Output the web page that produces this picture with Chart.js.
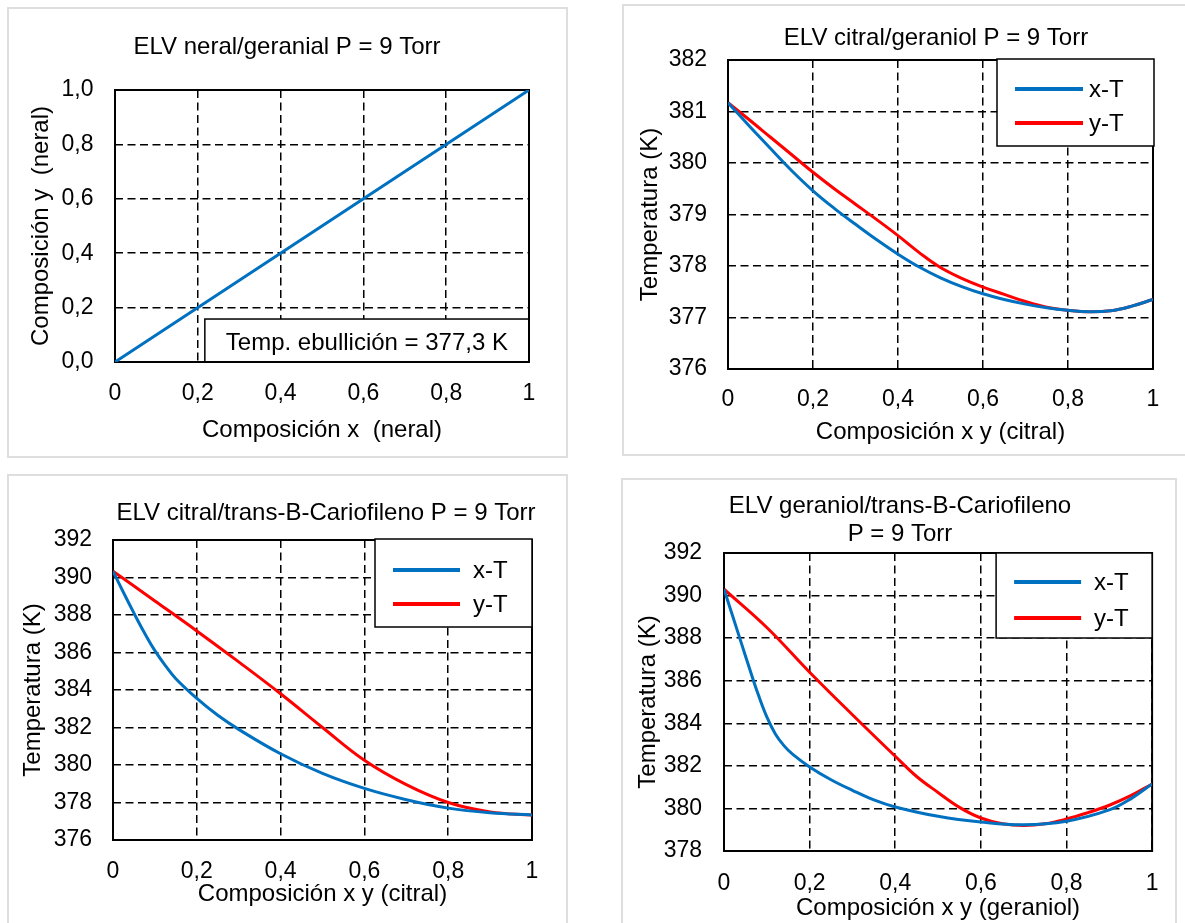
<!DOCTYPE html>
<html><head><meta charset="utf-8">
<script src="https://cdn.jsdelivr.net/npm/chart.js@4.4.1/dist/chart.umd.min.js"></script>
<style>
html,body{margin:0;padding:0;background:#fff;overflow:hidden;width:1185px;height:923px;}
#page{position:relative;width:1185px;height:923px;overflow:hidden;background:#fff;}
.frame{position:absolute;border:2px solid #dedede;box-sizing:border-box;}
canvas{position:absolute;}
</style></head><body><div id="page">
<div class="frame" style="left:7px;top:7px;width:561px;height:451px"></div>
<div class="frame" style="left:622px;top:4px;width:700px;height:452px"></div>
<div class="frame" style="left:7px;top:474px;width:561px;height:500px"></div>
<div class="frame" style="left:621px;top:478px;width:556px;height:500px"></div>
<canvas id="c1" width="558" height="450" style="left:8px;top:8px"></canvas>
<canvas id="c2" width="626" height="450" style="left:623px;top:5px"></canvas>
<canvas id="c3" width="636" height="447" style="left:8px;top:476px"></canvas>
<canvas id="c4" width="554" height="443" style="left:623px;top:480px"></canvas>
</div>
<script>
// ---------- data ----------
const xTickLabels = ['0', '0,2', '0,4', '0,6', '0,8', '1'];

// Panel 1: neral/geranial (y = x)
const p1X = [0, 1];
const p1Y = [0, 1];
const p1YTickLabels = ['0,0', '0,2', '0,4', '0,6', '0,8', '1,0'];
const p1Note = 'Temp. ebullición = 377,3 K';

// Panel 2: citral/geraniol
const p2XBlue = [0, 0.05, 0.1, 0.15, 0.2, 0.25, 0.3, 0.35, 0.4, 0.45, 0.5, 0.55, 0.6, 0.65, 0.7, 0.75, 0.8, 0.85, 0.9, 0.95, 1];
const p2TBlue = [381.17, 380.72, 380.28, 379.85, 379.46, 379.12, 378.81, 378.51, 378.23, 377.98, 377.77, 377.6, 377.46, 377.35, 377.26, 377.19, 377.14, 377.11, 377.13, 377.22, 377.35];
const p2XRed = [0, 0.05, 0.1, 0.15, 0.2, 0.25, 0.3, 0.35, 0.4, 0.45, 0.5, 0.55, 0.6, 0.65, 0.7, 0.75, 0.8, 0.85, 0.9, 0.95, 1];
const p2TRed = [381.17, 380.84, 380.5, 380.16, 379.82, 379.5, 379.2, 378.9, 378.59, 378.26, 377.97, 377.76, 377.59, 377.45, 377.31, 377.2, 377.14, 377.11, 377.13, 377.22, 377.35];
const p2YTickLabels = ['376', '377', '378', '379', '380', '381', '382'];

// Panel 3: citral/trans-B-Cariofileno
const p3XBlue = [0, 0.025, 0.05, 0.075, 0.1, 0.125, 0.15, 0.2, 0.25, 0.3, 0.4, 0.5, 0.6, 0.7, 0.8, 0.9, 1];
const p3TBlue = [390.34, 389.2, 388.1, 387.05, 386.1, 385.3, 384.6, 383.55, 382.65, 381.9, 380.6, 379.55, 378.75, 378.15, 377.7, 377.45, 377.33];
const p3XRed = [0, 0.1, 0.2, 0.3, 0.4, 0.5, 0.6, 0.7, 0.8, 0.9, 1];
const p3TRed = [390.34, 388.75, 387.15, 385.5, 383.8, 382.0, 380.25, 378.95, 378.0, 377.5, 377.33];
const p3YTickLabels = ['376', '378', '380', '382', '384', '386', '388', '390', '392'];

// Panel 4: geraniol/trans-B-Cariofileno
const p4XBlue = [0, 0.02, 0.04, 0.06, 0.08, 0.1, 0.12, 0.14, 0.16, 0.2, 0.25, 0.3, 0.35, 0.4, 0.5, 0.6, 0.7, 0.8, 0.9, 0.95, 1];
const p4TBlue = [390.3, 389.05, 387.8, 386.55, 385.35, 384.3, 383.5, 382.95, 382.55, 381.95, 381.35, 380.85, 380.4, 380.07, 379.63, 379.36, 379.23, 379.4, 379.93, 380.45, 381.15];
const p4XRed = [0, 0.1, 0.2, 0.3, 0.4, 0.45, 0.5, 0.55, 0.6, 0.65, 0.7, 0.75, 0.8, 0.85, 0.9, 0.95, 1];
const p4TRed = [390.3, 388.5, 386.4, 384.4, 382.45, 381.5, 380.75, 380.05, 379.55, 379.28, 379.2, 379.28, 379.5, 379.8, 380.15, 380.6, 381.15];
const p4YTickLabels = ['378', '380', '382', '384', '386', '388', '390', '392'];

const seriesNames = ['x-T', 'y-T'];

// ---------- styling ----------
const FONT = '"Liberation Sans", Arial, sans-serif';
const FS = 24;      // titles, legend, note
const FT = 23;      // tick labels
const BLUE = '#0070C0';
const RED = '#FF0000';
const font = {family: FONT, size: FS, weight: 'normal', lineHeight: 1.2};
const tickFont = {family: FONT, size: FT, weight: 'normal', lineHeight: 1.2};

const framePlugin = {
  id: 'plotFrame',
  beforeDatasetsDraw(chart) {
    const {ctx, chartArea: a} = chart;
    const o = chart.options.plugins.plotFrame || {};
    if (o.note) {
      const xs = chart.scales.x, ys = chart.scales.y;
      const x0 = xs.getPixelForValue(o.note.x0), x1 = xs.getPixelForValue(o.note.x1);
      const y0 = ys.getPixelForValue(o.note.y0), y1 = ys.getPixelForValue(o.note.y1);
      ctx.save();
      ctx.fillStyle = '#fff';
      ctx.fillRect(x0, y1, x1 - x0, y0 - y1);
      ctx.strokeStyle = '#000';
      ctx.lineWidth = 1.5;
      ctx.strokeRect(x0, y1, x1 - x0, y0 - y1);
      ctx.fillStyle = '#000';
      ctx.font = FS + 'px ' + FONT;
      ctx.textAlign = 'center';
      ctx.textBaseline = 'middle';
      ctx.fillText(o.note.text, (x0 + x1) / 2, (y0 + y1) / 2 + 3);
      ctx.restore();
    }
    ctx.save();
    ctx.strokeStyle = '#000';
    ctx.lineWidth = 2;
    ctx.strokeRect(a.left, a.top, a.right - a.left, a.bottom - a.top);
    ctx.restore();
  },
  afterDatasetsDraw(chart) {
    const o = chart.options.plugins.plotFrame || {};
    const L = o.legend;
    if (!L) return;
    const {ctx, chartArea: a} = chart;
    const bx = a.right + L.dx - L.w, by = a.top + L.dy;
    ctx.save();
    ctx.fillStyle = '#fff';
    ctx.fillRect(bx, by, L.w, L.h);
    ctx.strokeStyle = '#000';
    ctx.lineWidth = 1.5;
    ctx.strokeRect(bx, by, L.w, L.h);
    chart.data.datasets.forEach((ds, i) => {
      const yy = by + L.rows[i];
      ctx.strokeStyle = ds.borderColor;
      ctx.lineWidth = 4;
      ctx.beginPath();
      ctx.moveTo(bx + L.l0, yy);
      ctx.lineTo(bx + L.l1, yy);
      ctx.stroke();
      ctx.fillStyle = '#000';
      ctx.font = FS + 'px ' + FONT;
      ctx.textAlign = 'left';
      ctx.textBaseline = 'middle';
      ctx.fillText(ds.label, bx + L.tx, yy + 1);
    });
    ctx.restore();
  }
};

function makeDS(label, xs, ys, color) {
  return {
    label, data: xs.map((x, i) => ({x, y: ys[i]})),
    borderColor: color, backgroundColor: color, borderWidth: 3,
    pointRadius: 0, fill: false, tension: 0.4
  };
}

function panel(id, o) {
  new Chart(document.getElementById(id), {
    type: 'line',
    data: {datasets: o.datasets},
    options: {
      responsive: false, animation: false, events: [],
      layout: {padding: 0},
      plugins: {
        legend: {display: false}, tooltip: {enabled: false},
        title: {display: true, text: o.title, color: '#000', font,
                padding: {top: o.tT, bottom: o.tB}},
        plotFrame: {legend: o.legend, note: o.note}
      },
      scales: {
        x: {
          type: 'linear', min: 0, max: 1,
          ticks: {stepSize: 0.2, autoSkip: false, maxRotation: 0, padding: o.xtp, color: '#000', font: tickFont,
                  callback: (v, i) => xTickLabels[i]},
          grid: {color: '#000', lineWidth: 1.5, drawTicks: false},
          border: {display: false, dash: [8, 4.5]},
          title: {display: true, text: o.xTitle, color: '#000', font, padding: {top: 0, bottom: o.xtb}},
          afterFit: s => { s.height = o.H; }
        },
        y: {
          type: 'linear', min: o.yMin, max: o.yMax,
          ticks: {stepSize: o.yStep, autoSkip: false, padding: o.ytp, color: '#000', font: tickFont,
                  callback: (v, i) => o.yLabels[i]},
          grid: {color: '#000', lineWidth: 1.5, drawTicks: false},
          border: {display: false, dash: [8, 4.5]},
          title: {display: true, text: o.yTitle, color: '#000', font, padding: {top: o.ytt, bottom: 0}},
          afterFit: s => { s.width = o.W; }
        },
        y2: {
          type: 'linear', axis: 'y', position: 'right', display: true,
          ticks: {display: false}, grid: {display: false, drawOnChartArea: false, drawTicks: false},
          border: {display: false},
          afterFit: s => { s.width = o.R; }
        }
      }
    },
    plugins: [framePlugin]
  });
}

panel('c1', {
  datasets: [makeDS('y=x', p1X, p1Y, BLUE)],
  title: 'ELV neral/geranial P = 9 Torr', tT: 24.6, tB: 28.6,
  xTitle: 'Composición x  (neral)', yTitle: 'Composición y  (neral)',
  yMin: 0, yMax: 1, yStep: 0.2, yLabels: p1YTickLabels,
  W: 107, H: 96, R: 37, ytp: 21.5, ytt: 18.6, xtp: 17.5, xtb: 13.6,
  note: {x0: 0.217, x1: 1, y0: 0, y1: 0.158, text: p1Note}
});

panel('c2', {
  datasets: [makeDS(seriesNames[0], p2XBlue, p2TBlue, BLUE), makeDS(seriesNames[1], p2XRed, p2TRed, RED)],
  title: 'ELV citral/geraniol P = 9 Torr', tT: 18.6, tB: 7.6,
  xTitle: 'Composición x y (citral)', yTitle: 'Temperatura (K)',
  yMin: 376, yMax: 382, yStep: 1, yLabels: p2YTickLabels,
  W: 105, H: 86, R: 96, ytp: 21, ytt: 12.6, xtp: 16.5, xtb: 8.6,
  legend: {dx: 1, dy: -1, w: 157, h: 87, l0: 18, l1: 86, tx: 92, rows: [30, 64]}
});

panel('c3', {
  datasets: [makeDS(seriesNames[0], p3XBlue, p3TBlue, BLUE), makeDS(seriesNames[1], p3XRed, p3TRed, RED)],
  title: 'ELV citral/trans-B-Cariofileno P = 9 Torr', tT: 22.6, tB: 12.6,
  xTitle: 'Composición x y (citral)', yTitle: 'Temperatura (K)',
  yMin: 376, yMax: 392, yStep: 2, yLabels: p3YTickLabels,
  W: 105, H: 83, R: 112, ytp: 21, ytt: 10.6, xtp: 17.5, xtb: 14.6,
  legend: {dx: 0, dy: -1, w: 157, h: 88, l0: 18, l1: 85, tx: 98, rows: [31, 65]}
});

panel('c4', {
  datasets: [makeDS(seriesNames[0], p4XBlue, p4TBlue, BLUE), makeDS(seriesNames[1], p4XRed, p4TRed, RED)],
  title: ['ELV geraniol/trans-B-Cariofileno', 'P = 9 Torr'], tT: 11.6, tB: 3.8,
  xTitle: 'Composición x y (geraniol)', yTitle: 'Temperatura (K)',
  yMin: 378, yMax: 392, yStep: 2, yLabels: p4YTickLabels,
  W: 101, H: 72, R: 24, ytp: 22, ytt: 10.6, xtp: 18.5, xtb: 0.6,
  legend: {dx: 0, dy: 0, w: 156, h: 85, l0: 18, l1: 85, tx: 98, rows: [29, 65]}
});
</script>
</body></html>
